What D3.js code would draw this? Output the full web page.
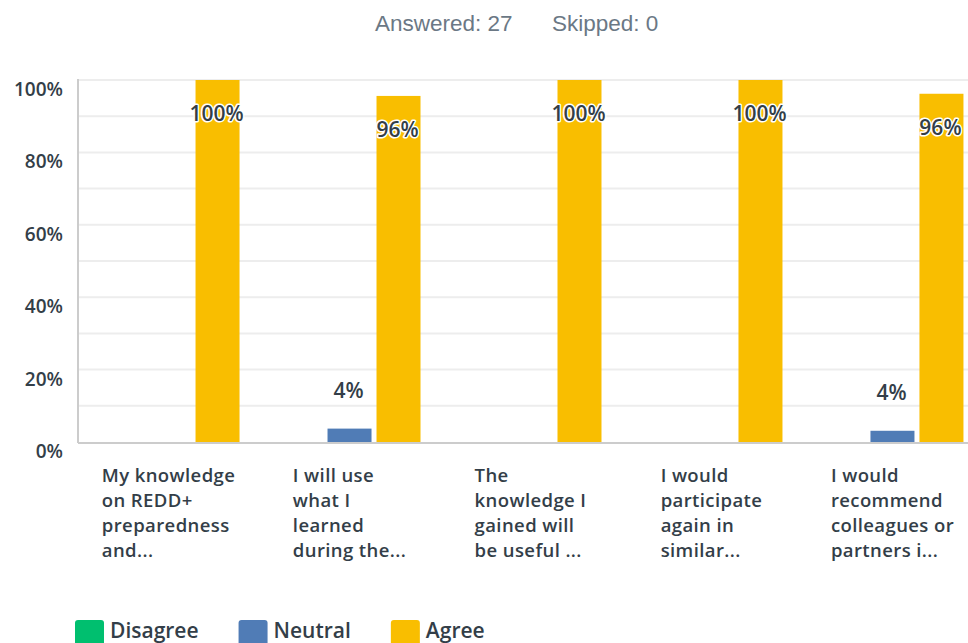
<!DOCTYPE html>
<html lang="en">
<head>
<meta charset="UTF-8">
<title>Answered: 27 Skipped: 0</title>
<script src="https://d3js.org/d3.v7.min.js"></script>
<style>
  body { margin: 0; background: #fff; }
  svg { display: block; }
  .head { font-family: "Liberation Sans", Arial, sans-serif; font-size: 22.5px; fill: #6b7885; }
  .tick-label { font-family: "Open Sans", sans-serif; font-weight: 600; font-size: 19px; fill: #333e48; text-anchor: end; }
  .cat-label { font-family: "Open Sans", sans-serif; font-weight: 600; font-size: 18.5px; letter-spacing: 0.4px; fill: #333e48; }
  .bar-label { font-family: "Open Sans", sans-serif; font-weight: 600; font-size: 21px; fill: #333e48; text-anchor: middle; }
  .bar-label.inside { stroke: #fff; stroke-width: 3px; paint-order: stroke; stroke-linejoin: round; }
  .legend-label { font-family: "Open Sans", sans-serif; font-weight: 600; font-size: 21px; fill: #333e48; }
</style>
</head>
<body>
<svg width="968" height="643"></svg>
<script>
// data
const categories = [
  ["My knowledge", "on REDD+", "preparedness", "and..."],
  ["I will use", "what I", "learned", "during the..."],
  ["The", "knowledge I", "gained will", "be useful ..."],
  ["I would", "participate", "again in", "similar..."],
  ["I would", "recommend", "colleagues or", "partners i..."]
];
const series = ["Disagree", "Neutral", "Agree"];
const colors = ["#00bf6f", "#507cb6", "#f9be00"];
const disagree = [0, 0, 0, 0, 0];
const neutral = [0, 3.7, 0, 0, 3.1];
const agree = [100, 95.6, 100, 100, 96.2];
const shownLabels = [["", "", "100%"], ["", "4%", "96%"], ["", "", "100%"], ["", "", "100%"], ["", "4%", "96%"]];
const yTicks = [0, 20, 40, 60, 80, 100];

const values = [disagree, neutral, agree];
const svg = d3.select("svg");

// header
svg.append("text").attr("class", "head").attr("x", 375).attr("y", 31).text("Answered: 27");
svg.append("text").attr("class", "head").attr("x", 552).attr("y", 31).text("Skipped: 0");

const plotLeft = 78, plotBottom = 442, plotTop = 80;

const x0 = d3.scaleBand().domain(d3.range(categories.length))
  .range([plotLeft, 983]).paddingInner(0.2155).paddingOuter(0.108);
const x1 = d3.scaleBand().domain(series).range([0, x0.bandwidth()]).paddingInner(0.102);
const y = d3.scaleLinear().domain([0, 100]).range([plotBottom, plotTop]);

// gridlines every 10%
svg.append("g").selectAll("line").data(d3.range(10, 101, 10)).enter()
  .append("line")
  .attr("x1", plotLeft).attr("x2", 968)
  .attr("y1", d => y(d)).attr("y2", d => y(d))
  .attr("stroke", "#ededed").attr("stroke-width", 2);

// y labels
svg.append("g").selectAll("text").data(yTicks).enter()
  .append("text").attr("class", "tick-label")
  .attr("x", 63).attr("y", d => y(d) + 16)
  .text(d => d + "%");

// bars
const groups = svg.append("g").selectAll("g").data(categories).enter()
  .append("g").attr("transform", (d, i) => `translate(${x0(i)},0)`);

groups.each(function(cat, i) {
  const g = d3.select(this);
  series.forEach((s, j) => {
    const v = values[j][i];
    if (v <= 0) return;
    g.append("rect")
      .attr("x", x1(s)).attr("width", x1.bandwidth())
      .attr("y", y(v)).attr("height", plotBottom - y(v))
      .attr("fill", colors[j]);
    const lbl = shownLabels[i][j];
    if (!lbl) return;
    const inside = plotBottom - y(v) > 60;
    g.append("text")
      .attr("class", "bar-label" + (inside ? " inside" : ""))
      .attr("x", x1(s) + x1.bandwidth() / 2 - 1)
      .attr("y", inside ? y(v) + 41 : y(v) - 31)
      .text(lbl);
  });
});

// axes lines
svg.append("line").attr("x1", plotLeft).attr("x2", plotLeft).attr("y1", 79).attr("y2", plotBottom + 1)
  .attr("stroke", "#cccccc").attr("stroke-width", 2);
svg.append("line").attr("x1", plotLeft).attr("x2", 968).attr("y1", plotBottom + 1).attr("y2", plotBottom + 1)
  .attr("stroke", "#cccccc").attr("stroke-width", 2);

// category labels: lines left aligned, block centred on the band
categories.forEach((lines, i) => {
  const t = svg.append("text").attr("class", "cat-label");
  lines.forEach((ln, k) => {
    t.append("tspan").attr("x", 0).attr("y", 482 + k * 25).text(ln);
  });
  const w = t.node().getBBox().width;
  const cx = x0(i) + x0.bandwidth() / 2;
  t.attr("transform", `translate(${cx - w / 2},0)`);
});

// legend
let lx = 75;
series.forEach((s, j) => {
  svg.append("rect").attr("x", lx).attr("y", 620).attr("width", 29).attr("height", 29)
    .attr("rx", 3).attr("fill", colors[j]);
  const t = svg.append("text").attr("class", "legend-label")
    .attr("x", lx + 35).attr("y", 638).text(s);
  lx += 35 + t.node().getComputedTextLength() + 40;
});
</script>
</body>
</html>
